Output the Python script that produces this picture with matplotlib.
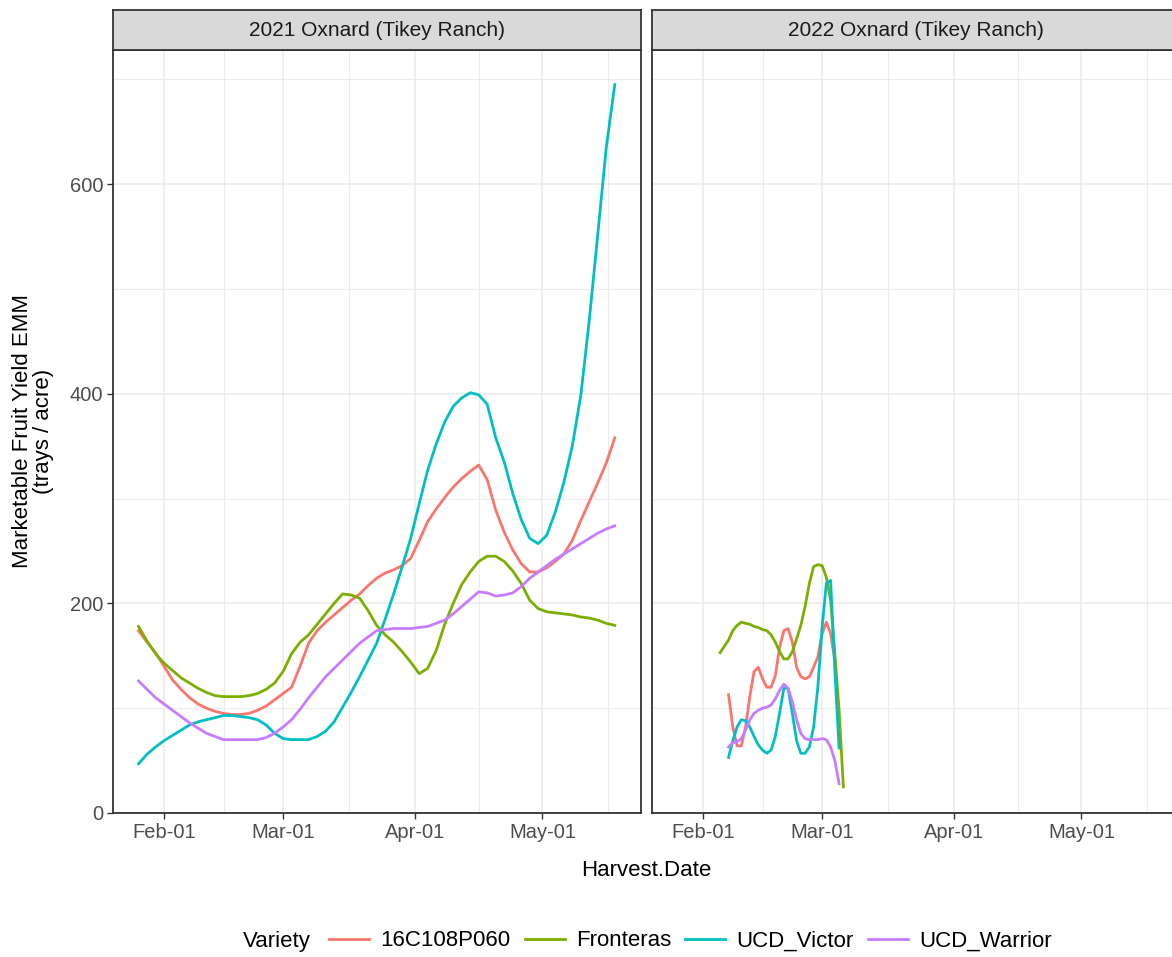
import numpy as np
import pandas as pd
import matplotlib
matplotlib.use('Agg')
import matplotlib.pyplot as plt
import matplotlib.dates as mdates
from matplotlib.lines import Line2D

plt.rcParams['font.family'] = ['Liberation Sans', 'DejaVu Sans']

varieties = ['16C108P060', 'Fronteras', 'UCD_Victor', 'UCD_Warrior']
colors = ['#F8766D', '#7CAE00', '#00BFC4', '#C77CFF']
panels = ['2021 Oxnard (Tikey Ranch)', '2022 Oxnard (Tikey Ranch)']

# 2021 season, read every 2 days off the curves (Jan 26 .. May 18)
dates_2021 = pd.date_range('2021-01-26', '2021-05-18', freq='2D')
y2021_16C = [174, 163, 153, 140, 127, 118, 110, 104, 100, 97, 95, 94, 94, 95, 98,
             102, 108, 114, 120, 140, 162, 174, 182, 189, 196, 203, 209, 217, 224,
             229, 232, 236, 243, 260, 278, 290, 301, 311, 319, 326, 332, 318, 289,
             268, 251, 238, 230, 230, 234, 240, 247, 260, 279, 297, 315, 334, 358]
y2021_fron = [178, 164, 152, 143, 136, 129, 124, 119, 115, 112, 111, 111, 111, 112, 114,
              118, 124, 135, 152, 163, 170, 180, 190, 200, 209, 208, 205, 193, 179,
              170, 163, 154, 144, 133, 138, 155, 180, 200, 218, 230, 240, 245, 245,
              240, 231, 219, 203, 195, 192, 191, 190, 189, 187, 186, 184, 181, 179]
y2021_vict = [47, 56, 63, 69, 74, 79, 84, 87, 89, 91, 93, 93, 92, 91, 89,
              84, 76, 71, 70, 70, 70, 73, 78, 87, 101, 115, 130, 146, 162,
              185, 209, 235, 262, 295, 327, 352, 373, 388, 396, 401, 399, 390, 358,
              335, 305, 280, 262, 257, 265, 287, 315, 350, 398, 470, 552, 635, 695]
y2021_warr = [126, 118, 110, 104, 98, 92, 86, 81, 76, 73, 70, 70, 70, 70, 70,
              72, 76, 82, 89, 99, 110, 120, 130, 138, 146, 154, 162, 168, 174,
              175, 176, 176, 176, 177, 178, 181, 184, 190, 197, 204, 211, 210, 207,
              208, 210, 216, 224, 230, 236, 242, 247, 252, 257, 262, 267, 271, 274]

# 2022 season, daily from Feb 5 to Mar 6
dates_2022 = pd.date_range('2022-02-05', '2022-03-06', freq='D')
nan = np.nan
y2022_16C = [nan, nan, 113, 82, 64, 64, 82, 111, 135, 139, 128, 120, 120, 131, 158,
             174, 176, 163, 139, 130, 128, 130, 139, 149, 171, 182, 171, 146, nan, nan]
y2022_fron = [153, 159, 165, 174, 179, 182, 181, 180, 178, 177, 175, 174, 170, 163, 154,
              147, 147, 154, 166, 179, 197, 219, 235, 237, 236, 225, 203, 152, 98, 25]
y2022_vict = [nan, nan, 53, 69, 82, 89, 88, 82, 73, 65, 60, 57, 60, 73, 95,
              119, 119, 95, 69, 57, 57, 63, 82, 120, 177, 219, 222, 136, 62, nan]
y2022_warr = [nan, nan, 63, 67, 68, 71, 79, 89, 95, 98, 100, 101, 103, 109, 117,
              123, 119, 106, 89, 76, 71, 70, 70, 70, 71, 70, 63, 50, 28, nan]

series = [
    (dates_2021, [y2021_16C, y2021_fron, y2021_vict, y2021_warr], 2021),
    (dates_2022, [y2022_16C, y2022_fron, y2022_vict, y2022_warr], 2022),
]

W, H = 1172, 957
fig = plt.figure(figsize=(W / 100, H / 100), dpi=100)


def box(x0, y0, x1, y1):
    return [x0 / W, 1 - y1 / H, (x1 - x0) / W, (y1 - y0) / H]


panel_x = [(113, 641), (652, 1180)]   # right panel runs past the image edge
border = '#333333'

for i, (dates, ys, year) in enumerate(series):
    x0, x1 = panel_x[i]
    ax = fig.add_axes(box(x0, 50, x1, 813))
    for vals, c in zip(ys, colors):
        ax.plot(dates, vals, color=c, lw=2.0)

    majors = [pd.Timestamp(f'{year}-{m:02d}-01') for m in range(1, 7)]
    mids = [a + (b - a) / 2 for a, b in zip(majors[:-1], majors[1:])]
    ax.set_xticks(majors[1:5])
    ax.xaxis.set_major_formatter(mdates.DateFormatter('%b-%d'))
    ax.set_xticks(mids[1:], minor=True)
    ax.set_yticks([0, 200, 400, 600])
    ax.set_yticks([100, 300, 500, 700], minor=True)
    ax.set_xlim(pd.Timestamp(f'{year}-01-20'), pd.Timestamp(f'{year}-05-24 04:00'))
    ax.set_ylim(0, 728)

    ax.grid(True, which='major', color='#EBEBEB', lw=1.1)
    ax.grid(True, which='minor', color='#EBEBEB', lw=0.8)
    ax.set_axisbelow(True)
    for s in ax.spines.values():
        s.set_color(border)
        s.set_linewidth(1.3)
    ax.tick_params(which='major', length=4, width=1.0, color=border,
                   labelcolor='#4D4D4D', labelsize=14.5, pad=3)
    ax.tick_params(which='minor', length=0)
    if i > 0:
        ax.tick_params(axis='y', left=False, labelleft=False)

    sx = fig.add_axes(box(x0, 10, x1, 50))
    sx.set_facecolor('#D9D9D9')
    sx.set_xticks([])
    sx.set_yticks([])
    for s in sx.spines.values():
        s.set_color(border)
        s.set_linewidth(1.3)
    sx.text(0.5, 0.5, panels[i], transform=sx.transAxes, ha='center', va='center',
            fontsize=15, color='#1A1A1A')

fig.text(33 / W, 1 - 431 / H, 'Marketable Fruit Yield EMM\n(trays / acre)', rotation=90,
         ha='center', va='center', multialignment='center', fontsize=16, linespacing=1.0)
fig.text(646 / W, 1 - 870 / H, 'Harvest.Date', ha='center', va='center', fontsize=16)

fig.text(243 / W, 1 - 941 / H, 'Variety', ha='left', va='center', fontsize=16)
handles = [Line2D([], [], color=c, lw=2.0) for c in colors]
fig.legend(handles, varieties, loc='center left', bbox_to_anchor=(329 / W, 1 - 941 / H),
           ncol=4, frameon=False, fontsize=16, handlelength=1.8, handletextpad=0.5,
           columnspacing=0.65, borderaxespad=0, borderpad=0)

fig.savefig('out.png', dpi=100)
